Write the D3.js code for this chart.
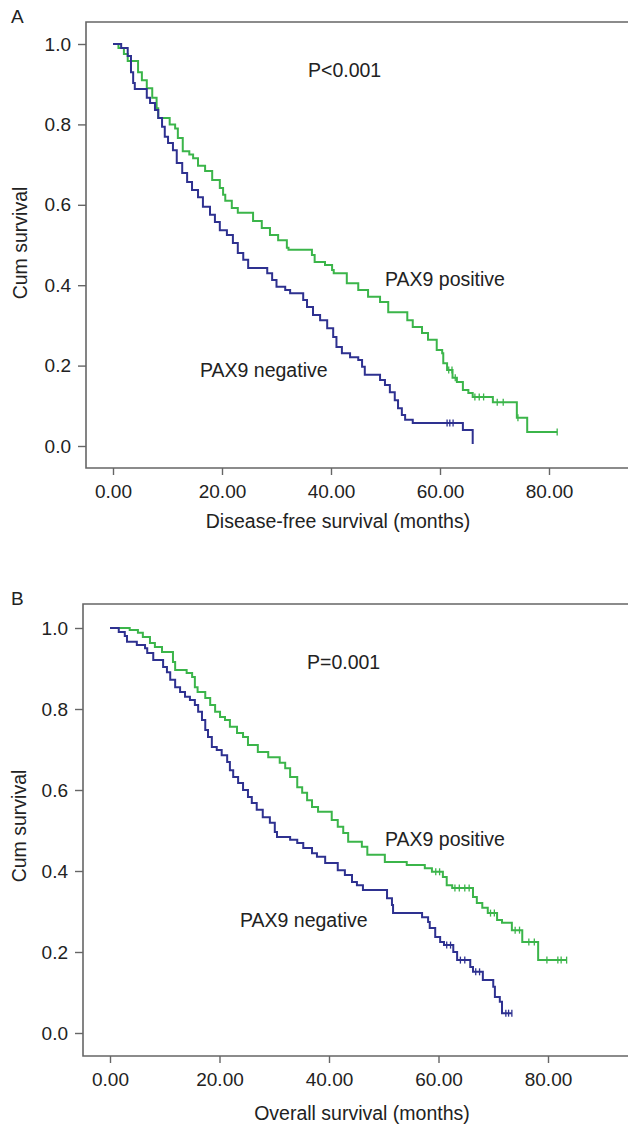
<!DOCTYPE html>
<html>
<head>
<meta charset="utf-8">
<script src="https://d3js.org/d3.v7.min.js"></script>
<style>
  body { margin: 0; background: #fff; }
  text { font-family: "Liberation Sans", Arial, sans-serif; fill: #222; }
</style>
</head>
<body>
<svg id="vis"></svg>

<script>
  var visWidth = 628
  var visHeight = 1127

  // Panel A: disease-free survival, step times (months) and survival after each drop
  var dfsPosTime = [0, 1.0, 2.0, 2.7, 4.6, 5.3, 6.2, 7.2, 8.0, 8.3, 10.4, 11.4, 11.9, 12.8, 14.0, 14.7, 15.6, 16.9, 18.2, 19.6, 20.2, 20.6, 21.8, 22.9, 25.7, 27.3, 28.8, 30.3, 31.9, 32.2, 36.5, 37.0, 38.9, 40.2, 40.5, 42.9, 45.0, 46.8, 49.0, 50.5, 54.0, 55.0, 56.7, 57.8, 59.4, 60.4, 60.6, 61.3, 62.3, 63.1, 64.2, 65.2, 66.0, 69.7, 74.1, 76.0]
  var dfsPosSurv = [1.0, 0.99, 0.975, 0.958, 0.93, 0.91, 0.89, 0.866, 0.84, 0.816, 0.80, 0.79, 0.766, 0.733, 0.725, 0.716, 0.697, 0.684, 0.662, 0.642, 0.625, 0.61, 0.592, 0.58, 0.56, 0.542, 0.525, 0.512, 0.493, 0.488, 0.475, 0.458, 0.45, 0.438, 0.43, 0.405, 0.388, 0.371, 0.358, 0.333, 0.313, 0.296, 0.281, 0.264, 0.239, 0.231, 0.206, 0.189, 0.17, 0.159, 0.139, 0.132, 0.122, 0.109, 0.07, 0.035]
  var dfsPosEnd = 81.5
  var dfsPosCensor = [61.6, 62.2, 62.8, 66.4, 67.2, 68.0, 70.5, 71.6, 74.3, 81.5]

  var dfsNegTime = [0, 1.5, 2.7, 3.3, 3.7, 4.0, 6.2, 6.8, 7.7, 8.3, 9.0, 9.5, 10.1, 11.0, 11.7, 12.7, 13.6, 14.5, 15.6, 16.5, 17.8, 18.7, 19.6, 20.9, 22.0, 22.9, 23.9, 24.8, 28.3, 29.2, 30.0, 31.6, 32.5, 34.9, 35.6, 36.7, 38.0, 39.3, 40.4, 41.0, 42.0, 43.5, 45.0, 45.7, 46.2, 49.0, 49.9, 50.8, 51.7, 52.3, 53.0, 53.6, 55.0, 64.2, 66.0]
  var dfsNegSurv = [1.0, 0.99, 0.97, 0.93, 0.903, 0.888, 0.866, 0.853, 0.836, 0.816, 0.794, 0.769, 0.754, 0.736, 0.704, 0.679, 0.657, 0.637, 0.619, 0.595, 0.575, 0.557, 0.537, 0.525, 0.505, 0.48, 0.463, 0.443, 0.43, 0.413, 0.396, 0.388, 0.38, 0.363, 0.346, 0.326, 0.313, 0.293, 0.271, 0.246, 0.231, 0.221, 0.214, 0.197, 0.177, 0.164, 0.152, 0.134, 0.114, 0.094, 0.077, 0.065, 0.057, 0.04, 0.005]
  var dfsNegEnd = 66.0
  var dfsNegCensor = [61.3, 61.8, 62.4]

  // Panel B: overall survival
  var osPosTime = [0, 3.6, 5.1, 6.0, 7.3, 8.2, 9.5, 11.5, 11.9, 14.0, 15.0, 15.5, 16.0, 17.4, 18.3, 19.2, 20.1, 21.0, 21.9, 23.2, 24.3, 25.2, 27.0, 28.9, 31.0, 32.0, 32.9, 34.2, 35.1, 36.0, 36.9, 38.0, 40.5, 41.6, 42.6, 43.5, 46.0, 47.0, 50.2, 54.2, 57.5, 58.8, 60.8, 61.5, 62.5, 66.3, 67.0, 68.0, 69.0, 70.7, 71.6, 73.4, 75.3, 78.2]
  var osPosSurv = [1.0, 0.995, 0.988, 0.978, 0.963, 0.953, 0.941, 0.916, 0.896, 0.889, 0.879, 0.854, 0.842, 0.827, 0.81, 0.793, 0.78, 0.773, 0.756, 0.741, 0.731, 0.711, 0.694, 0.681, 0.667, 0.654, 0.632, 0.607, 0.593, 0.575, 0.558, 0.546, 0.526, 0.509, 0.494, 0.472, 0.46, 0.44, 0.422, 0.415, 0.407, 0.398, 0.385, 0.365, 0.358, 0.336, 0.321, 0.309, 0.296, 0.279, 0.272, 0.254, 0.225, 0.18]
  var osPosEnd = 83.4
  var osPosCensor = [59.5, 60.2, 63.0, 63.8, 64.8, 65.6, 69.5, 70.2, 74.0, 74.8, 76.5, 77.5, 79.8, 81.8, 82.4, 83.4]

  var osNegTime = [0, 1.6, 2.7, 3.1, 4.9, 6.4, 6.8, 7.9, 9.7, 10.4, 11.0, 11.9, 12.8, 13.7, 14.6, 15.5, 16.1, 16.8, 17.4, 17.9, 18.6, 19.5, 20.4, 21.4, 21.9, 22.5, 23.4, 24.3, 25.2, 25.9, 26.8, 27.9, 29.2, 30.1, 30.5, 32.9, 34.2, 35.3, 36.9, 37.8, 39.3, 41.6, 42.9, 44.2, 45.1, 46.2, 50.6, 51.5, 51.7, 57.0, 58.1, 58.4, 59.4, 60.3, 61.0, 62.7, 63.4, 65.8, 66.3, 68.1, 70.0, 70.3, 71.2, 71.6]
  var osNegSurv = [1.0, 0.99, 0.98, 0.966, 0.958, 0.95, 0.938, 0.921, 0.904, 0.891, 0.872, 0.854, 0.842, 0.83, 0.822, 0.81, 0.793, 0.773, 0.748, 0.731, 0.706, 0.699, 0.686, 0.669, 0.649, 0.632, 0.617, 0.6, 0.583, 0.568, 0.551, 0.533, 0.519, 0.496, 0.484, 0.477, 0.469, 0.457, 0.444, 0.435, 0.42, 0.402, 0.39, 0.373, 0.365, 0.353, 0.333, 0.316, 0.296, 0.286, 0.274, 0.259, 0.237, 0.225, 0.217, 0.2, 0.18, 0.163, 0.151, 0.131, 0.114, 0.089, 0.077, 0.049]
  var osNegEnd = 73.4
  var osNegCensor = [61.5, 62.2, 64.0, 64.8, 66.8, 67.5, 72.3, 72.8, 73.4]

  var xTicks = [0, 20, 40, 60, 80]
  var yTicks = [0, 0.2, 0.4, 0.6, 0.8, 1.0]

  var green = '#3bb54a'
  var blue = '#2e3190'
  var frameColor = '#666'

  var svg = d3.select('#vis')
    .attr('width', visWidth)
    .attr('height', visHeight)

  function survAt(times, surv, t) {
    var v = surv[0]
    for (var i = 0; i < times.length; i++) {
      if (times[i] <= t) v = surv[i]
    }
    return v
  }

  function drawCurve(g, x, y, times, surv, end, censor, color) {
    var pts = times.map((t, i) => [t, surv[i]])
    pts.push([end, surv[surv.length - 1]])

    var line = d3.line()
      .x(d => x(d[0]))
      .y(d => y(d[1]))
      .curve(d3.curveStepAfter)

    g.append('path')
      .datum(pts)
      .attr('d', line)
      .attr('fill', 'none')
      .attr('stroke', color)
      .attr('stroke-width', 2)

    g.selectAll(null)
      .data(censor)
      .enter().append('line')
      .attr('x1', d => x(d))
      .attr('x2', d => x(d))
      .attr('y1', d => y(survAt(times, surv, d)) - 3.5)
      .attr('y2', d => y(survAt(times, surv, d)) + 3.5)
      .attr('stroke', color)
      .attr('stroke-width', 1.3)
  }

  function drawPanel(p) {
    var g = svg.append('g')
    var x = d3.scaleLinear().domain([0, 80]).range([p.x0, p.x80])
    var y = d3.scaleLinear().domain([0, 1]).range([p.y0, p.y1])

    // frame: top, left, bottom (runs off the right edge)
    g.append('path')
      .attr('d', `M${visWidth + 2},${p.top}H${p.left}V${p.bottom}H${visWidth + 2}`)
      .attr('fill', 'none')
      .attr('stroke', frameColor)
      .attr('stroke-width', 1.6)

    // y axis ticks
    var yAxis = d3.axisLeft(y).tickValues(yTicks).tickFormat(d3.format('.1f')).tickSize(8).tickPadding(7)
    var ya = g.append('g').attr('transform', `translate(${p.left},0)`).call(yAxis)
    ya.select('.domain').remove()
    ya.selectAll('line').attr('stroke', frameColor).attr('stroke-width', 1.4)
    ya.selectAll('text').attr('font-size', 19).attr('font-family', '"Liberation Sans", Arial, sans-serif').attr('fill', '#222')

    // x axis ticks
    var xAxis = d3.axisBottom(x).tickValues(xTicks).tickFormat(d3.format('.2f')).tickSize(7).tickPadding(10)
    var xa = g.append('g').attr('transform', `translate(0,${p.bottom})`).call(xAxis)
    xa.select('.domain').remove()
    xa.selectAll('line').attr('stroke', frameColor).attr('stroke-width', 1.4)
    xa.selectAll('text').attr('font-size', 19).attr('font-family', '"Liberation Sans", Arial, sans-serif').attr('fill', '#222')

    drawCurve(g, x, y, p.posTime, p.posSurv, p.posEnd, p.posCensor, green)
    drawCurve(g, x, y, p.negTime, p.negSurv, p.negEnd, p.negCensor, blue)

    g.append('text').attr('x', 11).attr('y', p.top + 1).attr('font-size', 19).text(p.letter)
    g.append('text').attr('x', p.xTitleX).attr('y', p.xTitleY).attr('text-anchor', 'middle').attr('font-size', 19.5).text(p.xTitle)
    g.append('text')
      .attr('transform', `translate(${p.yTitleX},${p.yTitleY}) rotate(-90)`)
      .attr('text-anchor', 'middle').attr('font-size', 19.5).text('Cum survival')
    g.append('text').attr('x', p.pX).attr('y', p.pY).attr('font-size', 19.5).text(p.pText)
    g.append('text').attr('x', p.posLabX).attr('y', p.posLabY).attr('font-size', 19.5).text('PAX9 positive')
    g.append('text').attr('x', p.negLabX).attr('y', p.negLabY).attr('font-size', 19.5).text('PAX9 negative')
  }

  drawPanel({
    letter: 'A', top: 22, left: 86, bottom: 468,
    x0: 113, x80: 549, y0: 446, y1: 44,
    xTitle: 'Disease-free survival (months)', xTitleX: 338, xTitleY: 528,
    yTitleX: 27, yTitleY: 243,
    pText: 'P<0.001', pX: 308, pY: 77,
    posLabX: 385, posLabY: 286, negLabX: 200, negLabY: 377,
    posTime: dfsPosTime, posSurv: dfsPosSurv, posEnd: dfsPosEnd, posCensor: dfsPosCensor,
    negTime: dfsNegTime, negSurv: dfsNegSurv, negEnd: dfsNegEnd, negCensor: dfsNegCensor
  })

  drawPanel({
    letter: 'B', top: 604, left: 83, bottom: 1056,
    x0: 110, x80: 548, y0: 1033, y1: 628,
    xTitle: 'Overall survival (months)', xTitleX: 362, xTitleY: 1120,
    yTitleX: 26, yTitleY: 826,
    pText: 'P=0.001', pX: 307, pY: 669,
    posLabX: 385, posLabY: 846, negLabX: 240, negLabY: 927,
    posTime: osPosTime, posSurv: osPosSurv, posEnd: osPosEnd, posCensor: osPosCensor,
    negTime: osNegTime, negSurv: osNegSurv, negEnd: osNegEnd, negCensor: osNegCensor
  })
</script>
</body>
</html>
